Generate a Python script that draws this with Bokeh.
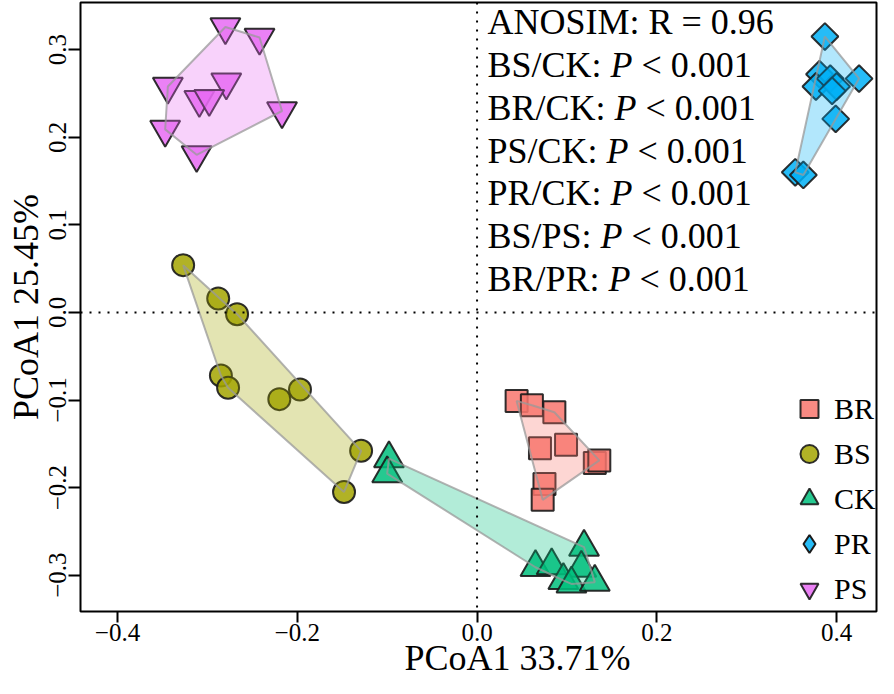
import numpy as np
from bokeh.plotting import figure
from bokeh.models import Range1d, FixedTicker, Span, Label, Legend, LegendItem, Title
from bokeh.embed import file_html
from bokeh.resources import INLINE

# ---------------- data ----------------
groups = ["BR", "BS", "CK", "PR", "PS"]
colors = ["#F8766D", "#A3A500", "#00BF7D", "#00B0F6", "#E76BF3"]

br_x = [0.044, 0.061, 0.086, 0.070, 0.099, 0.131, 0.136, 0.075, 0.073]
br_y = [-0.101, -0.106, -0.114, -0.155, -0.151, -0.172, -0.169, -0.196, -0.214]

bs_x = [-0.327, -0.288, -0.267, -0.285, -0.277, -0.220, -0.197, -0.129, -0.148]
bs_y = [0.054, 0.016, -0.002, -0.072, -0.086, -0.099, -0.088, -0.158, -0.205]

ck_x = [-0.098, -0.100, 0.119, 0.065, 0.083, 0.116, 0.096, 0.105, 0.131]
ck_y = [-0.167, -0.184, -0.268, -0.291, -0.289, -0.292, -0.306, -0.310, -0.308]

pr_x = [0.387, 0.381, 0.377, 0.393, 0.400, 0.395, 0.425, 0.399, 0.354, 0.363]
pr_y = [0.315, 0.272, 0.258, 0.267, 0.258, 0.253, 0.267, 0.221, 0.160, 0.157]

ps_x = [-0.280, -0.242, -0.344, -0.279, -0.309, -0.298, -0.217, -0.347, -0.312]
ps_y = [0.326, 0.314, 0.258, 0.263, 0.243, 0.244, 0.230, 0.209, 0.180]

x_ticks = [-0.4, -0.2, 0.0, 0.2, 0.4]
y_ticks = [-0.3, -0.2, -0.1, 0.0, 0.1, 0.2, 0.3]

x_title = "PCoA1 33.71%"
y_title = "PCoA1 25.45%"
stat_head = "ANOSIM: R = 0.96"
stat_pairs = ["BS/CK", "BR/CK", "PS/CK", "PR/CK", "BS/PS", "BR/PR"]
stat_pvals = ["< 0.001", "< 0.001", "< 0.001", "< 0.001", "< 0.001", "< 0.001"]

FONT = "Liberation Serif"

# ---------------- helpers ----------------
def convex_hull(xs, ys):
    pts = sorted(set(zip(xs, ys)))
    if len(pts) < 3:
        return [q[0] for q in pts], [q[1] for q in pts]
    def cross(o, a, b):
        return (a[0]-o[0])*(b[1]-o[1]) - (a[1]-o[1])*(b[0]-o[0])
    lower, upper = [], []
    for pt in pts:
        while len(lower) >= 2 and cross(lower[-2], lower[-1], pt) <= 0:
            lower.pop()
        lower.append(pt)
    for pt in reversed(pts):
        while len(upper) >= 2 and cross(upper[-2], upper[-1], pt) <= 0:
            upper.pop()
        upper.append(pt)
    hull = lower[:-1] + upper[:-1]
    return [h[0] for h in hull], [h[1] for h in hull]

X0, X1 = -0.4412, 0.4444
Y0, Y1 = -0.3415, 0.3539

# placement of the annotation text, expressed in the chart's own units
def rx(px):
    return (px - 484.5) / 913.0

def ry(py):
    return (318.0 - py) / 893.0

EM = {'A': .722, 'B': .667, 'C': .667, 'K': .722, 'P': .556, 'R': .667,
      'S': .556, '/': .278, ':': .278, ' ': .25}

def tw(s, fs):
    return sum(EM[c] for c in s) * fs

# ---------------- figure ----------------
p = figure(width=878, height=678, x_range=Range1d(X0, X1), y_range=Range1d(Y0, Y1),
           output_backend="svg", toolbar_location=None,
           min_border_left=80, min_border_right=2, min_border_top=2, min_border_bottom=67)
p.grid.visible = False
p.outline_line_color = "black"
p.outline_line_width = 2
p.background_fill_color = "white"
p.border_fill_color = "white"

for ax, ticks in ((p.xaxis, x_ticks), (p.yaxis, y_ticks)):
    ax.ticker = FixedTicker(ticks=ticks)
    ax.major_label_overrides = {t: ("%.1f" % t).replace("-", "\u2212") for t in ticks}
    ax.axis_line_color = None
    ax.major_tick_line_color = "black"
    ax.major_tick_line_width = 2
    ax.major_tick_in = 0
    ax.minor_tick_line_color = None
    ax.major_label_text_font = FONT
    ax.major_label_text_font_size = "25px"
    ax.major_label_text_color = "black"
p.xaxis.major_tick_out = 11
p.xaxis.major_label_standoff = 1
p.yaxis.major_tick_out = 12
p.yaxis.major_label_standoff = 2
p.yaxis.major_label_orientation = "vertical"
p.yaxis.axis_label = y_title
p.yaxis.axis_label_text_font = FONT
p.yaxis.axis_label_text_font_size = "36px"
p.yaxis.axis_label_text_font_style = "normal"
p.yaxis.axis_label_text_color = "black"
p.yaxis.axis_label_standoff = 1

xt = Title(text=x_title, align="left", offset=324, standoff=-16, text_font=FONT,
           text_font_size="36px", text_font_style="normal", text_color="black")
p.add_layout(xt, "below")

p.add_layout(Span(location=0, dimension="height", line_color="black", line_width=2, line_dash="2 7"))
p.add_layout(Span(location=0, dimension="width", line_color="black", line_width=2, line_dash="2 7"))

series = [
    ("BR", br_x, br_y, "square", 22, 0.0),
    ("BS", bs_x, bs_y, "circle", 22, 0.0),
    ("CK", ck_x, ck_y, "triangle", 30, 0.0),
    ("PR", pr_x, pr_y, "square", 19, np.pi / 4),
    ("PS", ps_x, ps_y, "inverted_triangle", 30, 0.0),
]

renderers = {}
for (name, xs, ys, marker, size, ang), col in zip(series, colors):
    r = p.scatter(xs, ys, marker=marker, size=size, angle=ang, fill_color=col, fill_alpha=0.85,
                  line_color="#1a1a1a", line_width=2, line_alpha=0.9)
    renderers[name] = r

for (name, xs, ys, marker, size, ang), col in zip(series, colors):
    hx, hy = convex_hull(xs, ys)
    p.patch(hx, hy, fill_color=col, fill_alpha=0.3, line_color="#9a9a9a", line_width=2, line_alpha=0.75)

# legend key for PR drawn as a diamond (no visible point in the plot)
pr_key = p.scatter([np.nan], [np.nan], marker="diamond", size=20, fill_color=colors[3], fill_alpha=0.85,
                   line_color="#1a1a1a", line_width=2)

items = []
for name in groups:
    rr = pr_key if name == "PR" else renderers[name]
    items.append(LegendItem(label=name, renderers=[rr]))
legend = Legend(items=items, location=(704, 0), glyph_width=50, glyph_height=45, spacing=0,
                label_standoff=-3, padding=0, margin=0, border_line_color=None,
                background_fill_alpha=0, label_text_font=FONT, label_text_font_size="30px",
                label_text_color="black")
p.add_layout(legend)

# stats annotation
FS = 36
x_txt = rx(495)
pitch = 43.67
p.add_layout(Label(x=x_txt, y=ry(22), text=stat_head, text_font=FONT, text_color="black",
                   text_font_size="%dpx" % FS, text_baseline="alphabetic"))
for i, (pair, pv) in enumerate(zip(stat_pairs, stat_pvals)):
    yb = ry(22 + pitch * (i + 1))
    pre = pair + ": "
    off1 = tw(pre, FS)
    off2 = off1 + 0.611 * FS + 0.25 * FS
    p.add_layout(Label(x=x_txt, y=yb, text=pair + ":", text_font=FONT, text_color="black",
                       text_font_size="%dpx" % FS, text_baseline="alphabetic"))
    p.add_layout(Label(x=x_txt, y=yb, x_offset=off1, text="P", text_font=FONT, text_color="black",
                       text_font_style="italic", text_font_size="%dpx" % FS, text_baseline="alphabetic"))
    p.add_layout(Label(x=x_txt, y=yb, x_offset=off2, text=pv, text_font=FONT, text_color="black",
                       text_font_size="%dpx" % FS, text_baseline="alphabetic"))

open("out.html", "w").write(file_html(p, INLINE))
